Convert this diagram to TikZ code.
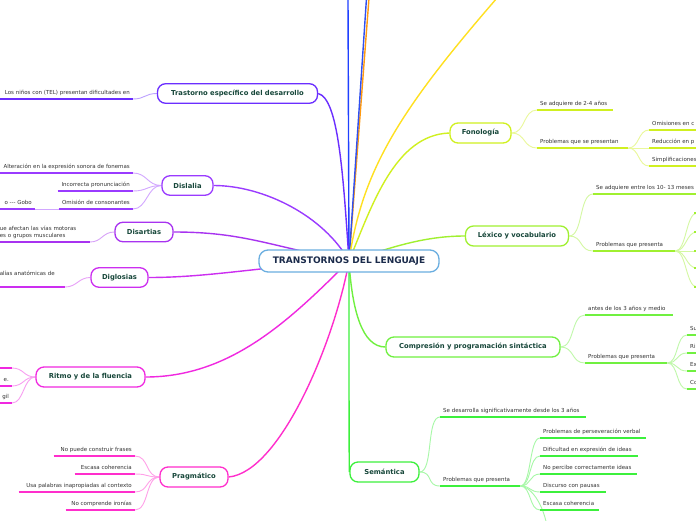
\documentclass[tikz,border=0pt]{standalone}
\usepackage{fontspec}
\setmainfont{DejaVu Sans}
\usetikzlibrary{backgrounds}
\definecolor{cRoot}{HTML}{6AAEE0}
\definecolor{rtext}{HTML}{1B2B4B}
\definecolor{ntext}{HTML}{17473A}
\definecolor{ctext}{HTML}{333333}
\definecolor{cTras}{HTML}{6B2EFF}
\definecolor{cDisl}{HTML}{9A3BFF}
\definecolor{cDisa}{HTML}{A833F0}
\definecolor{cDigl}{HTML}{CC2EF0}
\definecolor{cRitmo}{HTML}{F028E0}
\definecolor{cPrag}{HTML}{FF2ECC}
\definecolor{cFono}{HTML}{D0F020}
\definecolor{cLex}{HTML}{A0F030}
\definecolor{cComp}{HTML}{70F040}
\definecolor{cSem}{HTML}{3CF03C}
\definecolor{cBlueA}{HTML}{2040FF}
\definecolor{cBlueB}{HTML}{3050F0}
\definecolor{cOrange}{HTML}{FF9A10}
\definecolor{cYel}{HTML}{FFE020}
\newcommand\txr[2]{\makebox[#1][r]{#2}}
\newcommand\txl[2]{\makebox[#1][l]{#2}}
\begin{document}
\begin{tikzpicture}[x=1pt,y=-1pt,
  rootbox/.style={draw=cRoot, line width=1.3pt, rounded corners=9pt, fill=white, text=rtext,
    font=\fontsize{9}{10}\selectfont\bfseries, inner sep=0pt, minimum width=180pt, minimum height=22pt},
  mainbox/.style={draw=#1, line width=1.3pt, rounded corners=8pt, fill=white, text=ntext,
    font=\fontsize{6.8}{8}\selectfont\bfseries, inner sep=0pt, minimum height=19.5pt},
  lkid/.style={anchor=south east, inner xsep=3pt, inner ysep=1.5pt, text depth=2.5pt,
    font=\fontsize{5.5}{7}\selectfont, text=ctext},
  rkid/.style={anchor=south west, inner xsep=3pt, inner ysep=1.5pt, text depth=2.5pt,
    font=\fontsize{5.5}{7}\selectfont, text=ctext},
  uline/.style={draw=#1, line width=2pt},
  branch/.style={draw=#1, line width=1.4pt},
  sub/.style={draw=#1!45!white, line width=0.9pt}]
\useasboundingbox (0,0) rectangle (696,520);

% central node
\node[rootbox] (root) at (349,261) {TRANSTORNOS DEL LENGUAJE};

% ---------- left side ----------
\node[mainbox=cTras, minimum width=160pt] (tras) at (237.5,93.5) {Trastorno específico del desarrollo};
\node[lkid] (tras1) at (133,99) {\txr{127pt}{Los niños con (TEL) presentan dificultades en}};

\node[mainbox=cDisl, minimum width=51pt] (disl) at (187.5,185.5) {Dislalia};
\node[lkid] (disl1) at (133,173) {\txr{127pt}{Alteración en la expresión sonora de fonemas}};
\node[lkid] (disl2) at (133,191) {\txr{69pt}{Incorrecta pronunciación}};
\node[lkid] (disl3) at (133,209) {\txr{68pt}{Omisión de consonantes}};
\node[lkid] (gobo) at (35,209) {\txr{29pt}{o -{}-{}- Gobo}};

\node[mainbox=cDisa, minimum width=58pt] (disa) at (144,232) {Disartias};
\node[lkid, inner xsep=0pt, text width=90pt, align=left, text depth=10pt] (disa1) at (90,242) {ue afectan las vías motoras\\es o grupos musculares};

\node[mainbox=cDigl, minimum width=57pt] (digl) at (119.5,277.5) {Diglosias};
\node[lkid, inner xsep=0pt, text depth=10pt] (digl1) at (65,287) {\txl{65pt}{alías anatómicas de}};

\node[mainbox=cRitmo, minimum width=109pt, minimum height=20pt] (ritmo) at (90.5,377) {Ritmo y de la fluencia};
\node[lkid] (rit1) at (12,368) {\txr{9pt}{}};
\node[lkid] (rit2) at (12,386) {\txr{9pt}{e.}};
\node[lkid] (rit3) at (12,403) {\txr{9pt}{gil}};

\node[mainbox=cPrag, minimum width=68pt, minimum height=20pt] (prag) at (194,477) {Pragmático};
\node[lkid] (prag1) at (135,456) {\txr{75pt}{No puede construir frases}};
\node[lkid] (prag2) at (135,474) {\txr{54pt}{Escasa coherencia}};
\node[lkid] (prag3) at (135,492) {\txr{110pt}{Usa palabras inapropiadas al contexto}};
\node[lkid] (prag4) at (135,510) {\txr{63pt}{No comprende ironías}};

% ---------- right side ----------
\node[mainbox=cFono, minimum width=61pt, minimum height=20pt] (fono) at (480.5,133) {Fonología};
\node[rkid] (fono1) at (537,110) {\txl{70pt}{Se adquiere de 2-4 años}};
\node[rkid] (fono2) at (537,148) {\txl{85pt}{Problemas que se presentan}};
\node[rkid] (fono2a) at (649,130) {\txl{60pt}{Omisiones en c}};
\node[rkid] (fono2b) at (649,148) {\txl{60pt}{Reducción en p}};
\node[rkid] (fono2c) at (649,166) {\txl{60pt}{Simplificaciones}};

\node[mainbox=cLex, minimum width=103pt, minimum height=20pt] (lex) at (517,236) {Léxico y vocabulario};
\node[rkid] (lex1) at (593,194) {\txl{110pt}{Se adquiere entre los 10- 13 meses}};
\node[rkid] (lex2) at (593,251) {\txl{76pt}{Problemas que presenta}};
\coordinate (l1) at (697,213);
\coordinate (l2) at (697,232);
\coordinate (l3) at (697,251);
\coordinate (l4) at (697,268);
\coordinate (l5) at (697,287);

\node[mainbox=cComp, minimum width=174pt, minimum height=20pt] (comp) at (473,347) {Compresión y programación sintáctica};
\node[rkid] (comp1) at (585,315) {\txl{82pt}{antes de los 3 años y medio}};
\node[rkid] (comp2) at (585,363) {\txl{76pt}{Problemas que presenta}};
\node[rkid] (comp2a) at (687,335) {\txl{20pt}{Su}};
\node[rkid] (comp2b) at (687,353) {\txl{20pt}{Ri}};
\node[rkid] (comp2c) at (687,371) {\txl{20pt}{Ex}};
\node[rkid] (comp2d) at (687,389) {\txl{20pt}{Co}};

\node[mainbox=cSem, minimum width=69pt, minimum height=20pt] (sem) at (384.5,472) {Semántica};
\node[rkid] (sem1) at (440,417) {\txl{140pt}{Se desarrolla significativamente desde los 3 años}};
\node[rkid] (sem2) at (440,486) {\txl{74pt}{Problemas que presenta}};
\node[rkid] (sem2a) at (540,438) {\txl{100pt}{Problemas de perseveración verbal}};
\node[rkid] (sem2b) at (540,456) {\txl{92pt}{Dificultad en expresión de ideas}};
\node[rkid] (sem2c) at (540,474) {\txl{91pt}{No percibe correctamente ideas}};
\node[rkid] (sem2d) at (540,492) {\txl{60pt}{Discurso con pausas}};
\node[rkid] (sem2e) at (540,510) {\txl{53pt}{Escasa coherencia}};
\coordinate (s6) at (548,532);

% top free ends
\coordinate (top1) at (348,-2);
\coordinate (top2) at (366.5,-2);
\coordinate (top3) at (369,-2);
\coordinate (top4) at (497,-2);

% underlines
\foreach \n/\c in {tras1/cTras, disl1/cDisl, disl2/cDisl, disl3/cDisl, gobo/cDisl,
  disa1/cDisa, digl1/cDigl, rit1/cRitmo, rit2/cRitmo, rit3/cRitmo,
  prag1/cPrag, prag2/cPrag, prag3/cPrag, prag4/cPrag,
  fono1/cFono, fono2/cFono, fono2a/cFono, fono2b/cFono, fono2c/cFono,
  lex1/cLex, lex2/cLex, comp1/cComp, comp2/cComp, comp2a/cComp, comp2b/cComp, comp2c/cComp, comp2d/cComp,
  sem1/cSem, sem2/cSem, sem2a/cSem, sem2b/cSem, sem2c/cSem, sem2d/cSem, sem2e/cSem}
  \draw[uline=\c] (\n.south west) -- (\n.south east);
\foreach \p in {l1,l2,l3,l4,l5}
  \draw[uline=cLex] (\p) -- ++(-3,0);

\begin{scope}[on background layer]
\fill[white] (0,0) rectangle (696,520);
% main branches
\draw[branch=cOrange] (root.center) -- (top3);
\draw[branch=cBlueB] (root.center) -- (top2);
\draw[branch=cBlueA] (root.center) -- (top1);
\draw[branch=cYel] (root.center) .. controls (362,170) and (400,110) .. (top4);
\draw[branch=cFono] (root.center) .. controls (372,205) and (395,135) .. (fono.west);
\draw[branch=cLex] (root.center) .. controls (385,250) and (420,236) .. (lex.west);
\draw[branch=cComp] (root.center) .. controls (352,310) and (362,347) .. (comp.west);
\draw[branch=cSem] (root.center) .. controls (349,380) and (349,440) .. (sem.west);
\draw[branch=cTras] (tras.east) .. controls +(20,5) and +(-6,-90) .. (root.center);
\draw[branch=cDisl] (disl.east) .. controls +(50,0) and +(-25,-45) .. (root.center);
\draw[branch=cDisa] (disa.east) .. controls +(70,0) and +(-80,-15) .. (root.center);
\draw[branch=cDigl] (digl.east) .. controls +(60,0) and +(-90,6) .. (root.center);
\draw[branch=cRitmo] (ritmo.east) .. controls +(85,0) and +(-59,59) .. (root.center);
\draw[branch=cPrag] (prag.east) .. controls +(52,-5) and +(-14,79) .. (root.center);
% left sub connectors
\draw[sub=cTras] (tras.west) .. controls +(-12,0) and +(12,0) .. (tras1.south east);
\foreach \k in {disl1,disl2,disl3}
  \draw[sub=cDisl] (disl.west) .. controls +(-14,0) and +(14,0) .. (\k.south east);
\draw[sub=cDisl] (disl3.south west) -- (gobo.south east);
\draw[sub=cDisa] (disa.west) .. controls +(-12,0) and +(12,0) .. (disa1.south east);
\draw[sub=cDigl] (digl.west) .. controls +(-12,0) and +(12,0) .. (digl1.south east);
\foreach \k in {rit1,rit2,rit3}
  \draw[sub=cRitmo] (ritmo.west) .. controls +(-12,0) and +(12,0) .. (\k.south east);
\foreach \k in {prag1,prag2,prag3,prag4}
  \draw[sub=cPrag] (prag.west) .. controls +(-14,0) and +(14,0) .. (\k.south east);
% right sub connectors
\foreach \k in {fono1,fono2}
  \draw[sub=cFono] (fono.east) .. controls +(14,0) and +(-14,0) .. (\k.south west);
\foreach \k in {fono2a,fono2b,fono2c}
  \draw[sub=cFono] (fono2.south east) .. controls +(11,0) and +(-11,0) .. (\k.south west);
\foreach \k in {lex1,lex2}
  \draw[sub=cLex] (lex.east) .. controls +(14,0) and +(-14,0) .. (\k.south west);
\foreach \k in {l1,l2,l3,l4,l5}
  \draw[sub=cLex] (lex2.south east) .. controls +(11,0) and +(-11,0) .. (\k);
\foreach \k in {comp1,comp2}
  \draw[sub=cComp] (comp.east) .. controls +(14,0) and +(-14,0) .. (\k.south west);
\foreach \k in {comp2a,comp2b,comp2c,comp2d}
  \draw[sub=cComp] (comp2.south east) .. controls +(11,0) and +(-11,0) .. (\k.south west);
\foreach \k in {sem1,sem2}
  \draw[sub=cSem] (sem.east) .. controls +(14,0) and +(-14,0) .. (\k.south west);
\foreach \k in {sem2a,sem2b,sem2c,sem2d,sem2e}
  \draw[sub=cSem] (sem2.south east) .. controls +(11,0) and +(-11,0) .. (\k.south west);
\draw[sub=cSem] (sem2.south east) .. controls +(9,0) and +(-4,-30) .. (s6);
\end{scope}
\end{tikzpicture}
\end{document}
